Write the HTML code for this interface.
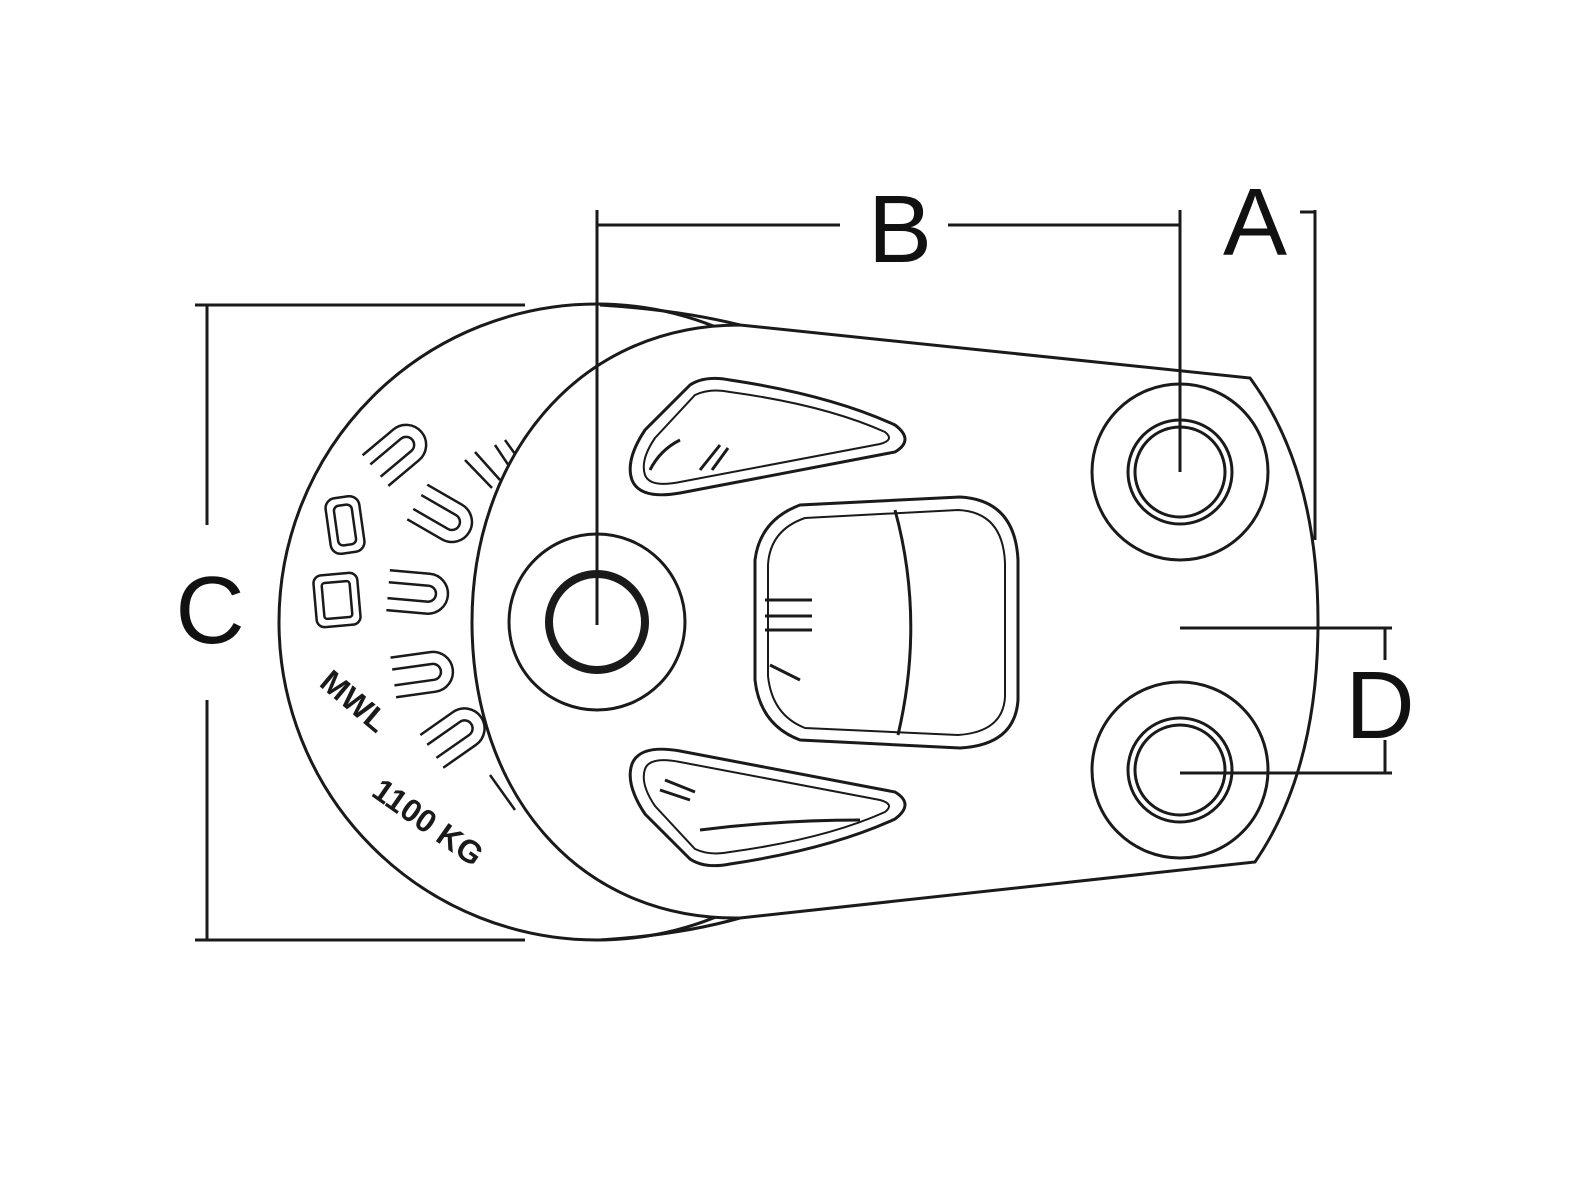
<!DOCTYPE html>
<html><head><style>html,body{margin:0;padding:0;background:#fff}svg{display:block}</style></head>
<body>
<svg width="1570" height="1190" viewBox="0 0 1570 1190" xmlns="http://www.w3.org/2000/svg">
<defs>
<g id="u"><path d="M-32 -20 L8 -20 A20 20 0 0 1 8 20 L-32 20 M-32 -8 L8 -8 A8 8 0 0 1 8 8 L-32 8"/></g>
</defs>
<g fill="none" stroke="#1a1a1a" stroke-width="3">
<!-- sheave -->
<circle cx="597" cy="622" r="318" fill="#fff"/>
<!-- sheave markings -->
<g stroke-width="2.5">
<use href="#u" transform="translate(400,450) rotate(-40)"/>
<use href="#u" transform="translate(445,518) rotate(30)"/>
<use href="#u" transform="translate(420,593) rotate(5)"/>
<use href="#u" transform="translate(425,673) rotate(-8)"/>
<use href="#u" transform="translate(458,733) rotate(-35)"/>
<path d="M465 460 L492 488 M475 452 L500 480 M495 445 L515 475 M505 440 L525 468"/>
<path d="M490 775 L515 810 M505 768 L528 800 M520 765 L540 795"/>
<g transform="translate(345,525) rotate(-8)"><rect x="-17" y="-28" width="34" height="56" rx="10"/><rect x="-9" y="-20" width="18" height="40" rx="5"/></g>
<g transform="translate(337,600) rotate(-5)"><rect x="-22" y="-26" width="44" height="52" rx="8"/><rect x="-14" y="-18" width="28" height="36" rx="3"/></g>
</g>
<text x="0" y="0" transform="translate(318,685) rotate(40)" font-family="Liberation Sans, sans-serif" font-weight="bold" font-size="32" fill="#1a1a1a" stroke="none">MWL</text>
<text x="0" y="0" transform="translate(370,795) rotate(35)" font-family="Liberation Sans, sans-serif" font-weight="bold" font-size="32" fill="#1a1a1a" stroke="none">1100 KG</text>
<!-- side plate -->
<path d="M740 325 L1250 378 Q1318 470 1318 622 Q1318 770 1255 862 L740 918 C575 920 472 790 472 622 C472 460 575 325 740 325 Z" fill="#fff"/>
<path d="M600 305 Q680 310 740 325"/>
<path d="M600 940 Q680 935 740 918"/>
<!-- bushings -->
<circle cx="597" cy="622" r="88"/>
<circle cx="597" cy="622" r="48" stroke-width="8"/>
<circle cx="1180" cy="472" r="88"/>
<circle cx="1180" cy="472" r="52"/>
<circle cx="1180" cy="472" r="45"/>
<circle cx="1180" cy="770" r="88"/>
<circle cx="1180" cy="770" r="52"/>
<circle cx="1180" cy="770" r="45"/>
<!-- top slot -->
<path d="M632 480 Q625 460 645 430 L690 385 Q705 375 730 380 Q830 395 895 425 Q915 440 895 452 L680 493 Q640 500 632 480 Z"/>
<path d="M645 475 Q640 460 655 438 L695 395 Q710 388 730 392 Q825 405 885 432 Q895 440 880 444 L680 482 Q650 488 645 475 Z" stroke-width="2"/>
<path d="M700 470 L720 445 M712 470 L728 448 M650 470 Q660 450 680 440"/>
<!-- bottom slot -->
<path d="M632 764 Q625 784 645 814 L690 859 Q705 869 730 864 Q830 849 895 819 Q915 804 895 792 L680 751 Q640 744 632 764 Z"/>
<path d="M645 769 Q640 784 655 806 L695 849 Q710 856 730 852 Q825 839 885 812 Q895 804 880 800 L680 762 Q650 756 645 769 Z" stroke-width="2"/>
<path d="M660 790 L690 800 M665 780 L695 792 M700 830 Q780 820 860 820"/>
<!-- center window -->
<path d="M800 505 Q760 520 755 560 L755 680 Q760 725 800 740 L960 748 Q1015 745 1018 700 L1018 560 Q1015 500 960 497 Z"/>
<path d="M805 518 Q770 530 768 565 L768 676 Q772 715 805 728 L958 735 Q1003 732 1005 697 L1005 563 Q1003 512 958 510 Z" stroke-width="2"/>
<path d="M895 510 Q925 620 898 735"/>
<path d="M765 600 L812 600 M765 616 L812 616 M765 630 L812 630 M770 665 L800 680"/>
<!-- dimension lines -->
<path d="M597 210 L597 625 M597 225 L840 225 M948 225 L1180 225 M1180 210 L1180 472"/>
<path d="M1300 212 L1315 212 M1315 210 L1315 540"/>
<path d="M195 305 L525 305 M195 940 L525 940 M207 305 L207 525 M207 700 L207 940"/>
<path d="M1180 628 L1392 628 M1180 773 L1392 773 M1385 628 L1385 660 M1385 740 L1385 773"/>
</g>
<g font-family="Liberation Sans, sans-serif" font-size="96" fill="#111" text-anchor="middle">
<text x="900" y="262">B</text>
<text x="1255" y="255">A</text>
<text x="210" y="643">C</text>
<text x="1380" y="738">D</text>
</g>
</svg>
</body></html>
